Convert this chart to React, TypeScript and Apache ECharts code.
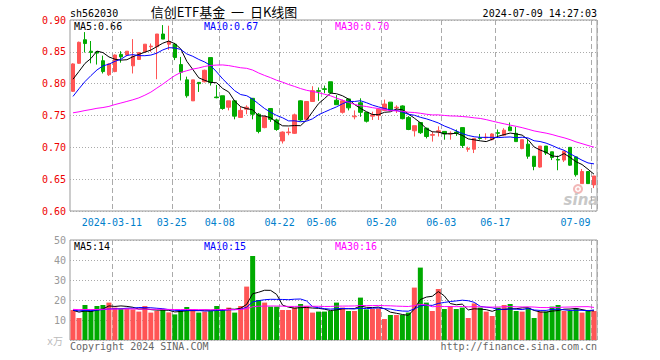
import React, { useEffect, useRef } from "react";
import * as echarts from "echarts";

// ---------- data ----------
const dates = [
  "2024-02-29", "2024-03-01", "2024-03-04", "2024-03-05", "2024-03-06", "2024-03-07", "2024-03-08",
  "2024-03-11", "2024-03-12", "2024-03-13", "2024-03-14", "2024-03-15",
  "2024-03-18", "2024-03-19", "2024-03-20", "2024-03-21", "2024-03-22",
  "2024-03-25", "2024-03-26", "2024-03-27", "2024-03-28", "2024-03-29",
  "2024-04-01", "2024-04-02", "2024-04-03",
  "2024-04-08", "2024-04-09", "2024-04-10", "2024-04-11", "2024-04-12",
  "2024-04-15", "2024-04-16", "2024-04-17", "2024-04-18", "2024-04-19",
  "2024-04-22", "2024-04-23", "2024-04-24", "2024-04-25", "2024-04-26",
  "2024-04-29", "2024-04-30",
  "2024-05-06", "2024-05-07", "2024-05-08", "2024-05-09", "2024-05-10",
  "2024-05-13", "2024-05-14", "2024-05-15", "2024-05-16", "2024-05-17",
  "2024-05-20", "2024-05-21", "2024-05-22", "2024-05-23", "2024-05-24",
  "2024-05-27", "2024-05-28", "2024-05-29", "2024-05-30", "2024-05-31",
  "2024-06-03", "2024-06-04", "2024-06-05", "2024-06-06", "2024-06-07",
  "2024-06-11", "2024-06-12", "2024-06-13", "2024-06-14",
  "2024-06-17", "2024-06-18", "2024-06-19", "2024-06-20", "2024-06-21",
  "2024-06-24", "2024-06-25", "2024-06-26", "2024-06-27", "2024-06-28",
  "2024-07-01", "2024-07-02", "2024-07-03", "2024-07-04", "2024-07-05",
  "2024-07-08", "2024-07-09",
];

const opens = [
  0.788, 0.832, 0.869, 0.851, 0.850, 0.836, 0.814, 0.819, 0.846, 0.845,
  0.828, 0.838, 0.850, 0.858, 0.858, 0.878, 0.862, 0.862, 0.830, 0.806,
  0.773, 0.802, 0.803, 0.841, 0.779, 0.781, 0.763, 0.773, 0.747, 0.760,
  0.777, 0.752, 0.731, 0.761, 0.743, 0.710, 0.723, 0.722, 0.773, 0.744,
  0.772, 0.789, 0.792, 0.803, 0.774, 0.755, 0.776, 0.748, 0.770, 0.755,
  0.749, 0.750, 0.758, 0.771, 0.762, 0.765, 0.747, 0.726, 0.739, 0.730,
  0.719, 0.724, 0.725, 0.721, 0.724, 0.731, 0.697, 0.697, 0.715, 0.715,
  0.712, 0.723, 0.719, 0.732, 0.722, 0.698, 0.705, 0.686, 0.669, 0.702,
  0.693, 0.681, 0.680, 0.700, 0.685, 0.643, 0.662, 0.641,
];
const closes = [
  0.831, 0.865, 0.863, 0.849, 0.848, 0.819, 0.831, 0.845, 0.842, 0.851,
  0.843, 0.849, 0.862, 0.859, 0.878, 0.870, 0.866, 0.841, 0.818, 0.781,
  0.806, 0.800, 0.821, 0.802, 0.778, 0.761, 0.773, 0.749, 0.758, 0.763,
  0.752, 0.725, 0.748, 0.744, 0.728, 0.724, 0.724, 0.751, 0.743, 0.772,
  0.789, 0.788, 0.791, 0.786, 0.767, 0.773, 0.762, 0.749, 0.755, 0.741,
  0.751, 0.760, 0.768, 0.759, 0.763, 0.745, 0.728, 0.734, 0.723, 0.717,
  0.720, 0.726, 0.721, 0.722, 0.722, 0.703, 0.698, 0.714, 0.714, 0.716,
  0.721, 0.722, 0.727, 0.726, 0.709, 0.712, 0.686, 0.670, 0.702, 0.691,
  0.684, 0.680, 0.694, 0.672, 0.657, 0.662, 0.643, 0.655,
];
const lows = [
  0.787, 0.831, 0.849, 0.832, 0.830, 0.816, 0.812, 0.818, 0.833, 0.843,
  0.816, 0.838, 0.849, 0.850, 0.807, 0.870, 0.853, 0.837, 0.805, 0.778,
  0.773, 0.787, 0.802, 0.797, 0.777, 0.759, 0.758, 0.744, 0.747, 0.752,
  0.744, 0.722, 0.730, 0.740, 0.726, 0.706, 0.719, 0.721, 0.741, 0.744,
  0.772, 0.773, 0.785, 0.784, 0.767, 0.753, 0.758, 0.744, 0.748, 0.739,
  0.743, 0.743, 0.757, 0.758, 0.754, 0.744, 0.727, 0.717, 0.721, 0.714,
  0.709, 0.717, 0.712, 0.712, 0.718, 0.699, 0.693, 0.691, 0.712, 0.712,
  0.711, 0.717, 0.718, 0.726, 0.709, 0.697, 0.682, 0.664, 0.668, 0.688,
  0.680, 0.664, 0.677, 0.671, 0.654, 0.643, 0.643, 0.636,
];
const highs = [
  0.832, 0.866, 0.881, 0.867, 0.851, 0.844, 0.832, 0.846, 0.851, 0.851,
  0.870, 0.849, 0.862, 0.863, 0.878, 0.892, 0.891, 0.864, 0.842, 0.811,
  0.806, 0.802, 0.822, 0.841, 0.798, 0.781, 0.773, 0.773, 0.764, 0.766,
  0.777, 0.754, 0.750, 0.761, 0.745, 0.725, 0.731, 0.753, 0.774, 0.772,
  0.796, 0.794, 0.797, 0.803, 0.782, 0.775, 0.776, 0.758, 0.777, 0.755,
  0.756, 0.761, 0.775, 0.771, 0.766, 0.766, 0.749, 0.734, 0.739, 0.731,
  0.725, 0.733, 0.725, 0.725, 0.728, 0.731, 0.701, 0.714, 0.721, 0.722,
  0.722, 0.728, 0.730, 0.739, 0.732, 0.712, 0.712, 0.686, 0.702, 0.702,
  0.693, 0.687, 0.694, 0.700, 0.685, 0.666, 0.662, 0.655,
];
// volume, in 10k lots (万手)
const volumes = [
  15.0, 11.0, 17.5, 14.5, 17.0, 17.5, 18.7, 16.2, 15.8, 15.8,
  15.3, 14.2, 17.0, 13.7, 14.5, 15.3, 13.8, 12.8, 15.0, 16.5,
  15.3, 13.7, 14.2, 14.5, 17.0, 15.5, 16.2, 13.7, 17.0, 26.7,
  42.0, 20.0, 18.7, 16.7, 16.7, 15.0, 15.0, 16.2, 18.0, 17.0,
  13.7, 14.2, 14.2, 14.5, 18.7, 16.2, 14.5, 14.5, 21.2, 15.3,
  15.5, 15.8, 10.5, 12.5, 12.5, 12.5, 13.7, 26.2, 36.2, 18.7,
  14.5, 25.5, 15.5, 17.0, 15.5, 16.2, 11.0, 18.3, 16.2, 14.2,
  12.0, 16.2, 17.5, 18.0, 14.5, 14.2, 16.2, 11.0, 14.2, 14.2,
  16.7, 17.5, 14.5, 14.5, 15.8, 13.7, 14.5, 14.5,
];
// the 29 sessions before the window (needed for the moving averages)
const prevCloses = [
  0.815, 0.805, 0.800, 0.790, 0.785, 0.775, 0.760, 0.770, 0.775, 0.765,
  0.760, 0.735, 0.715, 0.690, 0.680, 0.660, 0.645, 0.670, 0.700, 0.730,
  0.745, 0.750, 0.755, 0.760, 0.755, 0.804, 0.800, 0.810, 0.790,
];
const prevVolumes = [
  15.2, 14.6, 16.1, 15.8, 14.9, 15.5, 16.3, 15.0, 14.4, 15.7,
  16.6, 17.0, 15.9, 14.8, 15.1, 15.6, 14.7, 15.3, 16.0, 15.4,
  14.9, 15.2, 15.8, 14.6, 15.0, 15.5, 14.8, 16.0, 13.0,
];
const markedDates = [
  "2024-03-11", "2024-03-25", "2024-04-08", "2024-04-22", "2024-05-06",
  "2024-05-20", "2024-06-03", "2024-06-17", "2024-07-09",
];
const maPeriods = [5, 10, 30];
const priceMin = 0.6, priceMax = 0.9, priceStep = 0.05;
const volMin = 0, volMax = 50, volStep = 10;

// ---------- styles ----------
const RED = "#ff5555";
const GREEN = "#00aa00";
const MA_COLORS = ["#000000", "#0000ff", "#ff00ff"];
const MONO = "'DejaVu Sans Mono', monospace";
const CJK = "'Noto Sans CJK SC', sans-serif";

function movingAverage(prev: number[], cur: number[], n: number) {
  const full = prev.concat(cur);
  const out: number[] = [];
  for (let i = prev.length; i < full.length; i++) {
    let s = 0;
    for (let k = i - n + 1; k <= i; k++) s += full[k];
    out.push(s / n);
  }
  return out;
}

export default function App() {
  const ref = useRef<HTMLDivElement>(null);

  useEffect(() => {
    if (!ref.current) return;
    const chart = echarts.init(ref.current, undefined, { renderer: "svg" });

    const candleData = dates.map((_, i) => [opens[i], closes[i], lows[i], highs[i]]);
    const priceMA = maPeriods.map((n) => movingAverage(prevCloses, closes, n));
    const volMA = maPeriods.map((n) => movingAverage(prevVolumes, volumes, n));
    const volData = volumes.map((v, i) => ({
      value: v,
      itemStyle: { color: closes[i] >= opens[i] ? RED : GREEN },
    }));
    const last = dates.length - 1;

    const isMarked = (_i: number, v: string) => markedDates.includes(v);
    const splitLine = {
      show: true,
      interval: isMarked,
      lineStyle: { color: "#aaaaaa", type: [5, 3], width: 1 },
    };

    const txt = (text: string, x: number, y: number, fill: string, align: string, font: string) => ({
      type: "text",
      x,
      y,
      silent: true,
      style: { text, fill, font, textAlign: align, textVerticalAlign: "middle" },
    });

    const priceLegend = priceMA.map((arr, k) => `MA${maPeriods[k]}:${arr[last].toFixed(2)}`);
    const volLegend = volMA.map((arr, k) => `MA${maPeriods[k]}:${Math.floor(arr[last])}`);
    const legendX = [74, 204, 335];

    chart.setOption({
      animation: false,
      backgroundColor: "#ffffff",
      grid: [
        { left: 70, top: 20, width: 527, height: 191, show: true, borderColor: "#999999", borderWidth: 1 },
        { left: 70, top: 240, width: 527, height: 100, show: true, borderColor: "#999999", borderWidth: 1 },
      ],
      xAxis: [
        {
          type: "category",
          gridIndex: 0,
          data: dates,
          boundaryGap: true,
          axisLine: { show: false },
          axisTick: { show: false },
          axisLabel: {
            interval: isMarked,
            margin: 6,
            color: "#0080cc",
            fontFamily: MONO,
            fontSize: 10,
            formatter: (v: string, i: number) => {
              if (i === last) return `{b|${v.slice(5)}}`;
              if (v === markedDates[0]) return `{a|${v}}`;
              return `{a|${v.slice(5)}}`;
            },
            rich: {
              a: { padding: [0, 6, 0, 0], color: "#0080cc", fontFamily: MONO, fontSize: 10 },
              b: { padding: [0, 37, 0, 0], color: "#0080cc", fontFamily: MONO, fontSize: 10 },
            },
          },
          splitLine,
        },
        {
          type: "category",
          gridIndex: 1,
          data: dates,
          boundaryGap: true,
          axisLine: { show: false },
          axisTick: { show: false },
          axisLabel: { show: false },
          splitLine,
        },
      ],
      yAxis: [
        {
          type: "value",
          gridIndex: 0,
          min: priceMin,
          max: priceMax,
          interval: priceStep,
          axisLine: { show: false },
          axisTick: { show: false },
          axisLabel: {
            margin: 4,
            color: "#ee0000",
            fontFamily: MONO,
            fontSize: 10,
            formatter: (v: number) => v.toFixed(2),
          },
          splitLine: { show: true, lineStyle: { color: "#aaaaaa", type: [1, 2], width: 1 } },
        },
        {
          type: "value",
          gridIndex: 1,
          min: volMin,
          max: volMax,
          interval: volStep,
          axisLine: { show: false },
          axisTick: { show: false },
          axisLabel: {
            margin: 4,
            color: "#999999",
            fontFamily: MONO,
            fontSize: 10,
            formatter: (v: number) => (v === 0 ? "" : String(v)),
          },
          splitLine: { show: true, lineStyle: { color: "#aaaaaa", type: [1, 2], width: 1 } },
        },
      ],
      series: [
        {
          type: "candlestick",
          xAxisIndex: 0,
          yAxisIndex: 0,
          data: candleData,
          barWidth: 4,
          itemStyle: {
            color: RED,
            color0: GREEN,
            borderColor: RED,
            borderColor0: GREEN,
            borderWidth: 1,
          },
        },
        ...priceMA.map((arr, k) => ({
          type: "line",
          xAxisIndex: 0,
          yAxisIndex: 0,
          data: arr.map((v) => +v.toFixed(4)),
          showSymbol: false,
          symbol: "none",
          lineStyle: { color: MA_COLORS[k], width: 1 },
          silent: true,
        })),
        {
          type: "bar",
          xAxisIndex: 1,
          yAxisIndex: 1,
          data: volData,
          barWidth: 5,
        },
        ...volMA.map((arr, k) => ({
          type: "line",
          xAxisIndex: 1,
          yAxisIndex: 1,
          data: arr.map((v) => +v.toFixed(3)),
          showSymbol: false,
          symbol: "none",
          lineStyle: { color: MA_COLORS[k], width: 1 },
          silent: true,
        })),
      ],
      graphic: [
        txt("sh562030", 70, 13, "#000000", "left", `10px ${MONO}`),
        txt("信创ETF基金  一  日K线图", 224, 11, "#000000", "center", `13px ${CJK}`),
        txt("2024-07-09 14:27:03", 597, 13, "#000000", "right", `10px ${MONO}`),
        ...priceLegend.map((l, k) => txt(l, legendX[k], 26.5, MA_COLORS[k], "left", `10px ${MONO}`)),
        ...volLegend.map((l, k) => txt(l, legendX[k], 246.5, MA_COLORS[k], "left", `10px ${MONO}`)),
        txt("x万", 63, 341, "#bbbbbb", "right", `10px ${MONO}, ${CJK}`),
        txt("Copyright 2024 SINA.COM", 70, 346, "#666666", "left", `10px ${MONO}`),
        txt("http://finance.sina.com.cn", 597, 346, "#666666", "right", `10px ${MONO}`),
        { type: "ring", silent: true, shape: { cx: 578, cy: 189, r: 5, r0: 3 }, style: { fill: "#f2b8b8" } },
        { type: "circle", silent: true, shape: { cx: 578, cy: 189, r: 1.5 }, style: { fill: "#f2b8b8" } },
        {
          type: "text",
          x: 581,
          y: 200,
          silent: true,
          style: {
            text: "sina",
            fill: "#c8c8c8",
            font: "italic bold 15px 'DejaVu Sans', sans-serif",
            textAlign: "center",
            textVerticalAlign: "middle",
          },
        },
      ],
    });

    return () => chart.dispose();
  }, []);

  return (
    <div
      ref={ref}
      style={{ position: "fixed", left: 0, top: 0, width: 660, height: 360, background: "#fff" }}
    />
  );
}
